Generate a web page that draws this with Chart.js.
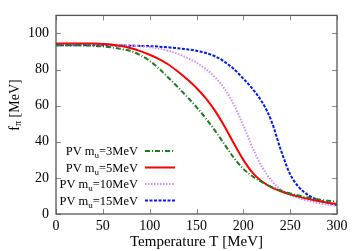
<!DOCTYPE html>
<html>
<head>
<meta charset="utf-8">
<script src="https://cdn.jsdelivr.net/npm/chart.js@4/dist/chart.umd.min.js"></script>
<style>
  html, body { margin: 0; padding: 0; background: #fff; }
</style>
</head>
<body>
<canvas id="fpiChart" width="358" height="251"></canvas>
<script>
// Temperature grid (MeV)
const temps = [0, 10, 20, 30, 40, 50, 60, 70, 80, 90, 100, 110, 120, 130, 140, 150,
               160, 170, 180, 190, 200, 210, 220, 230, 240, 250, 260, 270, 280, 290, 300];

// quark masses for the legend
const masses = ['3', '5', '10', '15'];

// f_pi values (MeV)
const fpi3 = [93.5, 93.5, 93.5, 93.4, 93.2, 92.8, 92.2, 91.4, 90.2, 88.0, 84.8, 80.5, 75.5, 70.3, 64.9, 59.2,
              53.0, 46.0, 38.5, 31.0, 25.0, 20.8, 17.6, 15.0, 13.0, 11.4, 10.1, 9.0, 8.1, 7.4, 6.8];
const fpi5 = [94.5, 94.5, 94.5, 94.5, 94.4, 94.2, 93.8, 93.0, 91.8, 90.2, 88.2, 85.8, 82.8, 78.9, 74.6, 69.8,
              64.0, 57.0, 48.5, 39.0, 30.0, 22.8, 18.0, 14.8, 12.6, 10.9, 9.5, 8.3, 7.2, 6.3, 5.5];
const fpi10 = [94.0, 94.0, 94.0, 94.0, 93.9, 93.9, 93.8, 93.6, 93.3, 92.9, 92.4, 91.6, 90.4, 88.7, 86.5, 83.8,
               80.3, 75.6, 69.3, 60.5, 49.0, 36.5, 26.0, 18.5, 13.5, 10.5, 8.6, 7.2, 6.1, 5.2, 4.5];
const fpi15 = [93.5, 93.5, 93.5, 93.5, 93.5, 93.4, 93.4, 93.3, 93.2, 93.1, 93.0, 92.7, 92.3, 91.8, 91.2, 90.4,
               89.2, 87.3, 84.3, 80.2, 75.0, 69.2, 62.0, 51.5, 35.5, 22.0, 14.5, 10.2, 7.8, 6.2, 5.0];

const xTicks = [0, 50, 100, 150, 200, 250, 300];
const yTicks = [0, 20, 40, 60, 80, 100];

const serif = '"Times New Roman", "Liberation Serif", "DejaVu Serif", serif';

function toPoints(ys) {
    return temps.map((t, i) => ({ x: t, y: ys[i] }));
}

function line(label, ys, color, dash) {
    return {
        label: label,
        data: toPoints(ys),
        borderColor: color,
        borderWidth: 2,
        borderDash: dash,
        pointRadius: 0,
        fill: false,
        cubicInterpolationMode: 'monotone'
    };
}

// frame, inner ticks, subscripted y title and legend (gnuplot look)
const gnuplotLook = {
    id: 'gnuplotLook',
    afterDatasetsDraw(chart) {
        const ctx = chart.ctx;
        const a = chart.chartArea;
        const xs = chart.scales.x, ys = chart.scales.y;
        ctx.save();

        // tick marks pointing inwards on all four sides
        ctx.strokeStyle = '#888';
        ctx.lineWidth = 1;
        ctx.beginPath();
        xTicks.forEach(v => {
            const px = Math.round(xs.getPixelForValue(v)) + 0.5;
            ctx.moveTo(px, a.bottom); ctx.lineTo(px, a.bottom - 5);
            ctx.moveTo(px, a.top); ctx.lineTo(px, a.top + 5);
        });
        yTicks.forEach(v => {
            const py = Math.round(ys.getPixelForValue(v)) + 0.5;
            ctx.moveTo(a.left, py); ctx.lineTo(a.left + 5, py);
            ctx.moveTo(a.right, py); ctx.lineTo(a.right - 5, py);
        });
        ctx.stroke();

        // frame
        ctx.strokeStyle = '#555';
        ctx.lineWidth = 1.3;
        ctx.strokeRect(a.left, a.top, a.right - a.left, a.bottom - a.top);

        // legend
        const rowY = [151, 167.5, 184, 200.5];
        const textRight = 138;
        chart.data.datasets.forEach((ds, i) => {
            const y = rowY[i];
            const p1 = 'PV m', p2 = 'u', p3 = '=' + masses[i] + 'MeV';
            ctx.fillStyle = '#000';
            ctx.textBaseline = 'alphabetic';
            ctx.textAlign = 'left';
            ctx.font = '12.5px ' + serif;
            const w1 = ctx.measureText(p1).width, w3 = ctx.measureText(p3).width;
            ctx.font = '9px ' + serif;
            const w2 = ctx.measureText(p2).width;
            let x = textRight - (w1 + w2 + w3);
            ctx.font = '12.5px ' + serif;
            ctx.fillText(p1, x, y + 4);
            x += w1;
            ctx.font = '9px ' + serif;
            ctx.fillText(p2, x, y + 7);
            x += w2;
            ctx.font = '12.5px ' + serif;
            ctx.fillText(p3, x, y + 4);

            ctx.strokeStyle = ds.borderColor;
            ctx.lineWidth = ds.borderWidth;
            ctx.setLineDash(ds.borderDash || []);
            ctx.beginPath();
            ctx.moveTo(145, y);
            ctx.lineTo(175, y);
            ctx.stroke();
            ctx.setLineDash([]);
        });

        // y axis title: f_pi [MeV]
        ctx.translate(15, 105);
        ctx.rotate(-Math.PI / 2);
        ctx.fillStyle = '#000';
        ctx.font = '14px ' + serif;
        const t1 = 'f', t3 = ' [MeV]';
        const tw1 = ctx.measureText(t1).width, tw3 = ctx.measureText(t3).width;
        ctx.font = '10px ' + serif;
        const tw2 = ctx.measureText('π').width;
        let tx = -(tw1 + tw2 + tw3) / 2;
        ctx.textBaseline = 'middle';
        ctx.font = '14px ' + serif;
        ctx.fillText(t1, tx, 0);
        tx += tw1;
        ctx.font = '10px ' + serif;
        ctx.fillText('π', tx, 3);
        tx += tw2;
        ctx.font = '14px ' + serif;
        ctx.fillText(t3, tx, 0);
        ctx.restore();
    }
};

const chart = new Chart(document.getElementById('fpiChart').getContext('2d'), {
    type: 'line',
    data: {
        datasets: [
            line('PV mu=3MeV', fpi3, '#1e7a1e', [5, 2, 1, 2]),
            line('PV mu=5MeV', fpi5, '#ff0000', []),
            line('PV mu=10MeV', fpi10, '#cc8cff', [1.5, 1.5]),
            line('PV mu=15MeV', fpi15, '#0018f0', [3, 1.5])
        ]
    },
    options: {
        responsive: false,
        devicePixelRatio: 1,
        animation: false,
        layout: { padding: { left: 0, top: 13, right: 21, bottom: 0 } },
        plugins: {
            legend: { display: false },
            tooltip: { enabled: false }
        },
        scales: {
            x: {
                type: 'linear',
                min: 0,
                max: 300,
                afterBuildTicks: s => { s.ticks = xTicks.map(v => ({ value: v })); },
                afterFit: s => { s.height = 37; },
                grid: { display: false, drawTicks: false },
                border: { display: false },
                ticks: { color: '#000', padding: 4, maxRotation: 0, font: { family: serif, size: 14 } },
                title: {
                    display: true,
                    text: 'Temperature T [MeV]',
                    color: '#000',
                    padding: { top: 0, bottom: 0 },
                    font: { family: serif, size: 15 }
                }
            },
            y: {
                min: 0,
                max: 110,
                afterBuildTicks: s => { s.ticks = yTicks.map(v => ({ value: v })); },
                afterFit: s => { s.width = 56; },
                grid: { display: false, drawTicks: false },
                border: { display: false },
                ticks: { color: '#000', padding: 7, font: { family: serif, size: 14 } }
            }
        }
    },
    plugins: [gnuplotLook]
});
</script>
</body>
</html>
